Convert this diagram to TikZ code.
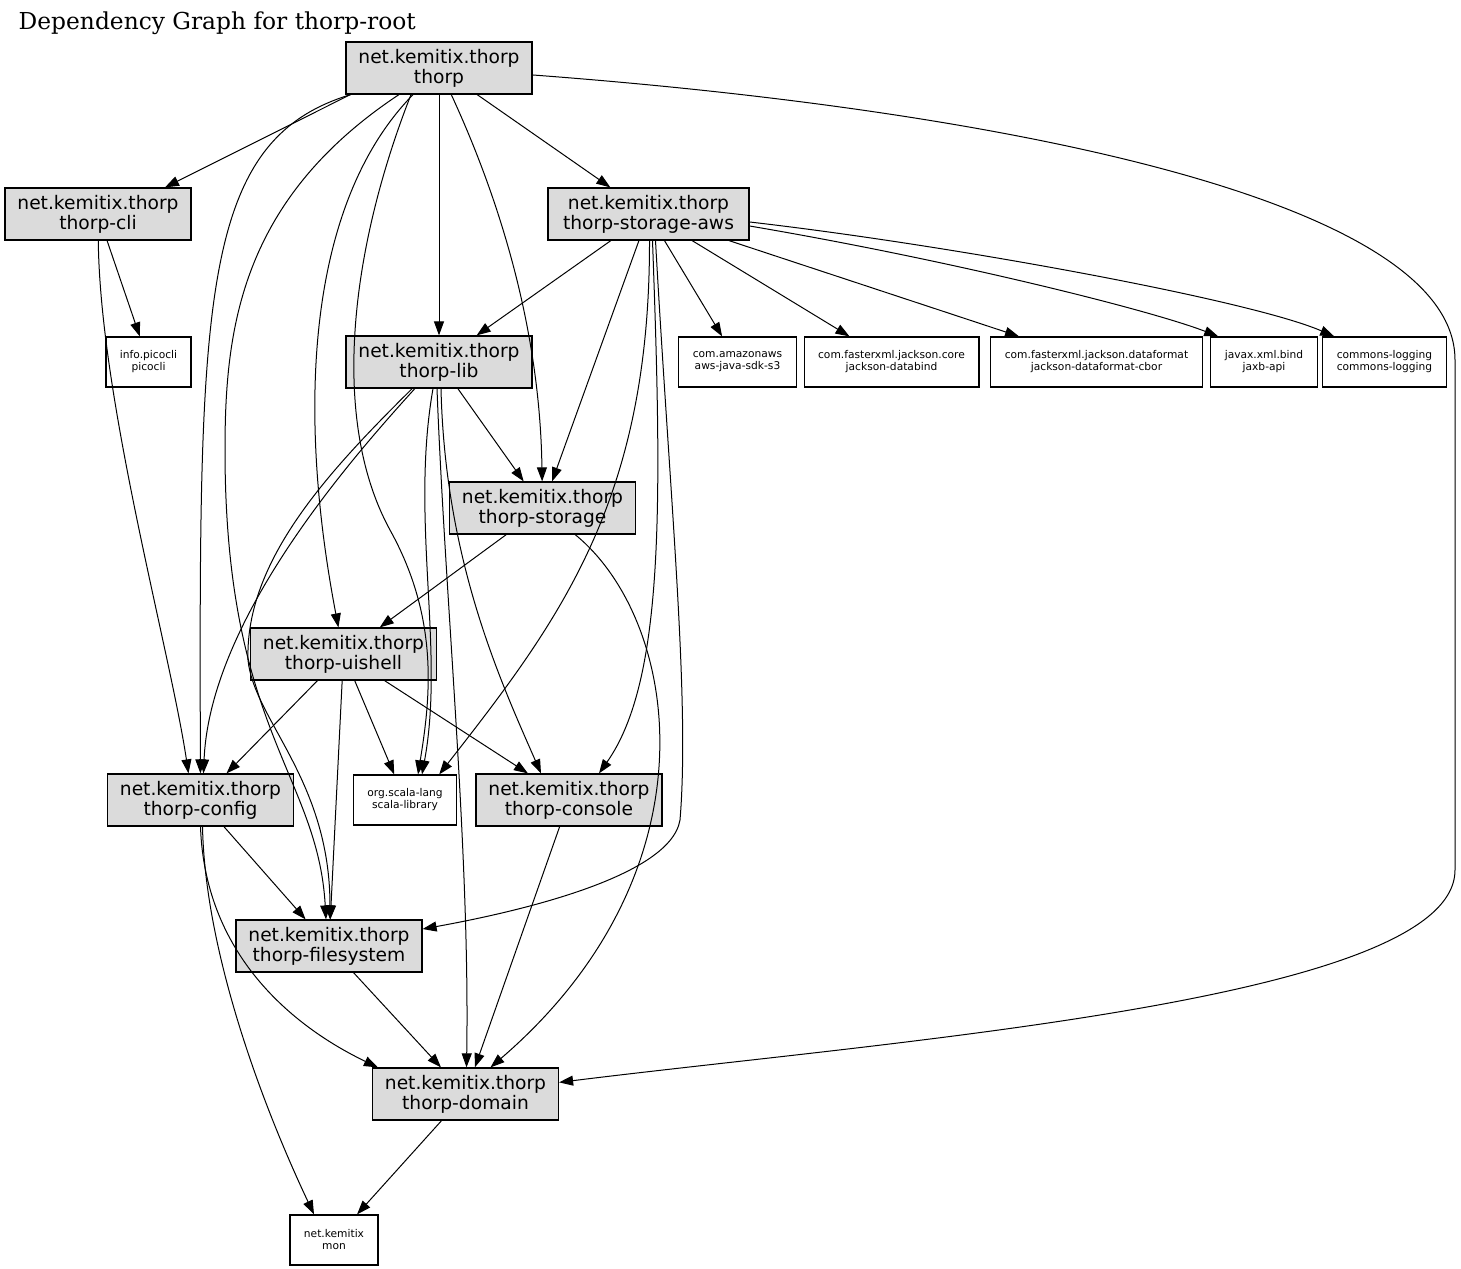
\documentclass[tikz,border=0pt]{standalone}
\usepackage{fontspec}
\setmainfont{DejaVu Serif}
\newfontfamily\depsans{DejaVu Sans}
\usetikzlibrary{arrows.meta,calc}

\begin{document}
\begin{tikzpicture}[
  x=0.75pt,y=-0.75pt,
  >={Triangle[length=10.5pt,width=7.5pt]},
  module/.style={draw,line width=0.9pt,fill=black!14,align=center,inner sep=0pt,
                 minimum width=139.5pt,minimum height=39pt,
                 font=\depsans\fontsize{14}{15}\selectfont},
  extlib/.style={draw,line width=0.9pt,fill=white,align=center,inner xsep=10.5pt,inner ysep=0pt,
                 minimum height=37.5pt,font=\depsans\fontsize{8}{9}\selectfont},
  dep/.style={->,line width=0.75pt},
]
\useasboundingbox (0,0) rectangle (1461,1269);

% Rows of the layered layout (pixels of the 1461x1269 sheet, y downwards).
\def\rowA{68}   \def\rowB{214}  \def\rowC{362}
\def\rowD{508}  \def\rowE{654}  \def\rowF{800}
\def\rowG{946}  \def\rowH{1094} \def\rowI{1240}

% ---------------- title ----------------
\node[anchor=base west,font=\fontsize{17.5}{17.5}\selectfont] (title) at (14,30) {Dependency Graph for thorp-root};

% ---------------- project modules ----------------
\node[module] (thorp)      at (439,\rowA)   {net.kemitix.thorp\\thorp};
\node[module] (cli)        at (98,\rowB)    {net.kemitix.thorp\\thorp-cli};
\node[module,minimum width=150.75pt] (aws) at (648.5,\rowB) {net.kemitix.thorp\\thorp-storage-aws};
\node[module] (lib)        at (439,\rowC)   {net.kemitix.thorp\\thorp-lib};
\node[module] (storage)    at (542.5,\rowD) {net.kemitix.thorp\\thorp-storage};
\node[module] (uishell)    at (343.5,\rowE) {net.kemitix.thorp\\thorp-uishell};
\node[module] (config)     at (200.5,\rowF) {net.kemitix.thorp\\thorp-config};
\node[module] (console)    at (569,\rowF)   {net.kemitix.thorp\\thorp-console};
\node[module] (filesystem) at (329,\rowG)   {net.kemitix.thorp\\thorp-filesystem};
\node[module] (domain)     at (465.5,\rowH) {net.kemitix.thorp\\thorp-domain};

% ---------------- external libraries ----------------
\node[extlib] (picocli)  at (148.5,\rowC)  {info.picocli\\picocli};
\node[extlib] (sdk)      at (737.5,\rowC)  {com.amazonaws\\aws-java-sdk-s3};
\node[extlib] (databind) at (891.5,\rowC)  {com.fasterxml.jackson.core\\jackson-databind};
\node[extlib] (cbor)     at (1096.5,\rowC) {com.fasterxml.jackson.dataformat\\jackson-dataformat-cbor};
\node[extlib] (jaxb)     at (1264,\rowC)   {javax.xml.bind\\jaxb-api};
\node[extlib] (logging)  at (1384.5,\rowC) {commons-logging\\commons-logging};
\node[extlib] (scala)    at (405,\rowF)    {org.scala-lang\\scala-library};
\node[extlib] (mon)      at (334,\rowI)    {net.kemitix\\mon};

% ---------------- straight dependencies ----------------
\foreach \a/\b in {thorp/lib,thorp/aws,cli/picocli,aws/lib,aws/storage,aws/sdk,aws/databind,aws/cbor,
                   lib/storage,storage/uishell,uishell/config,uishell/filesystem,uishell/scala,
                   uishell/console,config/filesystem,console/domain,filesystem/domain,domain/mon}{\draw[dep] (\a) -- (\b);}
\draw[dep] ($(thorp.south west)+(5,0)$) -- ($(cli.north)+(67,0)$);

% ---------------- thorp, routed round the others ----------------
\draw[dep] (thorp) .. controls (200,140) and (199,300) .. (config);
\draw[dep] (thorp) .. controls (240,200) and (225,330) .. (225,450) .. controls (225,730) and (318,775) .. ($(filesystem.north)+(-3,0)$);
\draw[dep] (thorp) .. controls (310,200) and (295,400) .. (uishell);
\draw[dep] ($(thorp.south)+(-28,0)$) .. controls (350,250) and (330,420) .. (390,530) .. controls (440,620) and (430,700) .. ($(scala.north)+(13,0)$);
\draw[dep] (thorp) .. controls (500,200) and (540,330) .. (storage);
\draw[dep] (thorp) .. controls (1000,110) and (1455,200) .. (1455,360) -- (1455,870) .. controls (1455,1000) and (900,1040) .. (domain);

% ---------------- thorp-cli ----------------
\draw[dep] (cli) .. controls (100,400) and (170,650) .. ($(config.north)+(-12,0)$);

% ---------------- thorp-storage-aws ----------------
\draw[dep] ($(aws.east)+(0,12)$) .. controls (950,260) and (1150,310) .. ($(jaxb.north west)+(8,0)$);
\draw[dep] ($(aws.east)+(0,8)$) .. controls (950,245) and (1250,300) .. ($(logging.north west)+(12,0)$);
\draw[dep] ($(aws.south)+(1,0)$) .. controls (650,500) and (560,620) .. ($(scala.north east)+(-18,0)$);
\draw[dep] ($(aws.south)+(4,0)$) .. controls (662,500) and (665,680) .. ($(console.north)+(30,0)$);
\draw[dep] ($(aws.south)+(7,0)$) .. controls (670,500) and (690,700) .. (680,820) .. controls (670,880) and (500,915) .. (filesystem);

% ---------------- thorp-lib ----------------
\draw[dep] (lib) .. controls (350,460) and (210,620) .. ($(config.north)+(3,0)$);
\draw[dep] (lib) .. controls (330,470) and (245,560) .. (248,660) .. controls (254,720) and (330,780) .. ($(filesystem.north)+(1,0)$);
\draw[dep] ($(lib.south)+(-6,0)$) .. controls (410,520) and (445,650) .. ($(scala.north)+(17,0)$);
\draw[dep] ($(lib.south)+(-2,0)$) .. controls (445,600) and (470,850) .. ($(domain.north)+(1,0)$);
\draw[dep] ($(lib.south)+(2,0)$) .. controls (445,560) and (500,680) .. ($(console.north)+(-28,0)$);

% ---------------- the lower layers ----------------
\draw[dep] (storage) .. controls (680,620) and (720,870) .. ($(domain.north)+(25,0)$);
\draw[dep] (config.south) .. controls (205,960) and (300,1030) .. ($(domain.north west)+(6,0)$);
\draw[dep] ($(config.south)+(2,0)$) .. controls (205,950) and (260,1100) .. ($(mon.north)+(-20,0)$);

\end{tikzpicture}
\end{document}
